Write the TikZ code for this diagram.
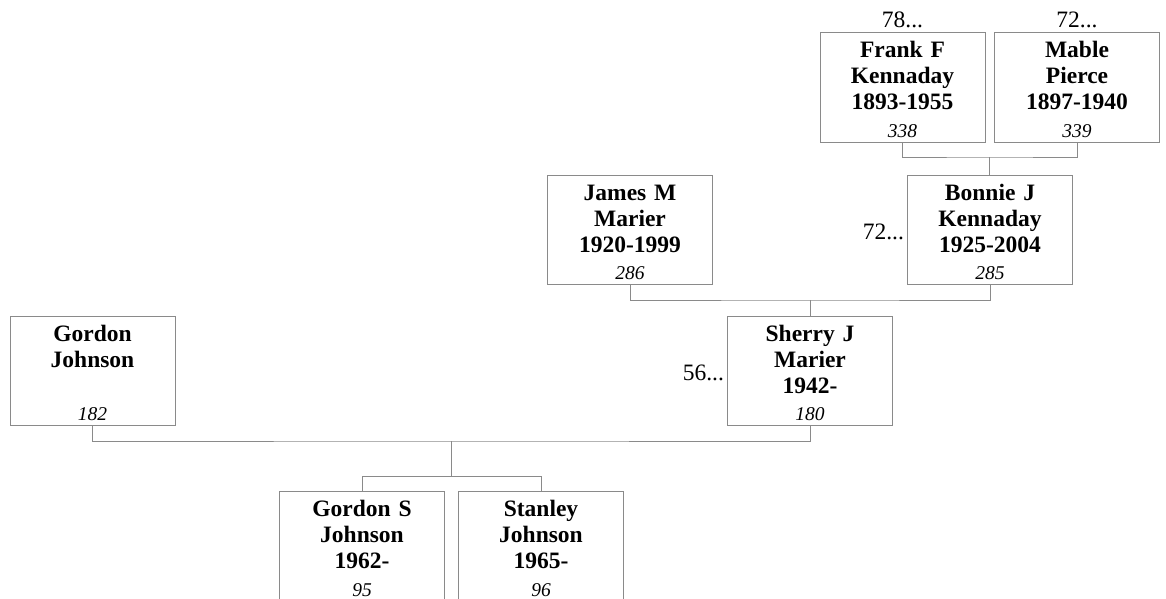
\documentclass[tikz,border=0pt]{standalone}
\usepackage{fontspec}
\setmainfont{Liberation Serif}
\usetikzlibrary{calc}
\definecolor{treeGray}{HTML}{8A8A8A}

\begin{document}
\begin{tikzpicture}[x=1pt,y=-1pt,
  person/.style={draw=treeGray,line width=1pt,inner sep=0pt,outer sep=0pt,
    text width=165pt,align=center,text height=25pt,text depth=84pt,
    font=\fontsize{23.5}{26}\selectfont\bfseries},
  refno/.style={anchor=base,yshift=4.5pt,
    font=\fontsize{19.5}{22}\selectfont\mdseries\itshape},
  more/.style={font=\fontsize{23.5}{26}\selectfont\mdseries},
  link/.style={draw=treeGray,line width=1pt}]
  \useasboundingbox (0,0) rectangle (1166,599);

  % grandparents of Sherry
  \node[person,label={[more,anchor=base,yshift=5pt]north:78...},
        label={[refno]south:338}] (frank) at (902.5,87.5) {Frank F\\Kennaday\\1893-1955};
  \node[person,label={[more,anchor=base,yshift=5pt]north:72...},
        label={[refno]south:339}] (mable) at (1077,87.5) {Mable\\Pierce\\1897-1940};

  % parents of Sherry
  \node[person,label={[refno]south:286}] (james) at (630,229.5) {James M\\Marier\\1920-1999};
  \node[person,label={[more,yshift=-2pt]west:72...},
        label={[refno]south:285}] (bonnie) at (990,229.5) {Bonnie J\\Kennaday\\1925-2004};

  % couple
  \node[person,label={[refno]south:182}] (gordon) at (92.5,370.5) {Gordon\\Johnson};
  \node[person,label={[more,yshift=-2pt]west:56...},
        label={[refno]south:180}] (sherry) at (810,370.5) {Sherry J\\Marier\\1942-};

  % children
  \node[person,label={[refno]south:95}] (gordons) at (362,546) {Gordon S\\Johnson\\1962-};
  \node[person,label={[refno]south:96}] (stanley) at (541,546) {Stanley\\Johnson\\1965-};

  % connectors
  \coordinate (fmbar) at ($(frank.south)!.5!(mable.south)+(0,15)$);
  \draw[link] (frank.south) |- (fmbar) -| (mable.south);
  \draw[link] (fmbar) -- (fmbar |- bonnie.north);

  \coordinate (jbbar) at ($(james.south)!.5!(bonnie.south)+(0,16)$);
  \draw[link] (james.south) |- (jbbar) -| (bonnie.south);
  \draw[link] (jbbar) -- (jbbar |- sherry.north);

  \coordinate (gsbar) at ($(gordon.south)!.5!(sherry.south)+(0,16)$);
  \draw[link] (gordon.south) |- (gsbar) -| (sherry.south);

  \coordinate (kidsbar) at ($(gordons.north)!.5!(stanley.north)+(0,-15)$);
  \draw[link] (gordons.north) |- (kidsbar) -| (stanley.north);
  \draw[link] (gsbar) -- (gsbar |- kidsbar);
\end{tikzpicture}
\end{document}
